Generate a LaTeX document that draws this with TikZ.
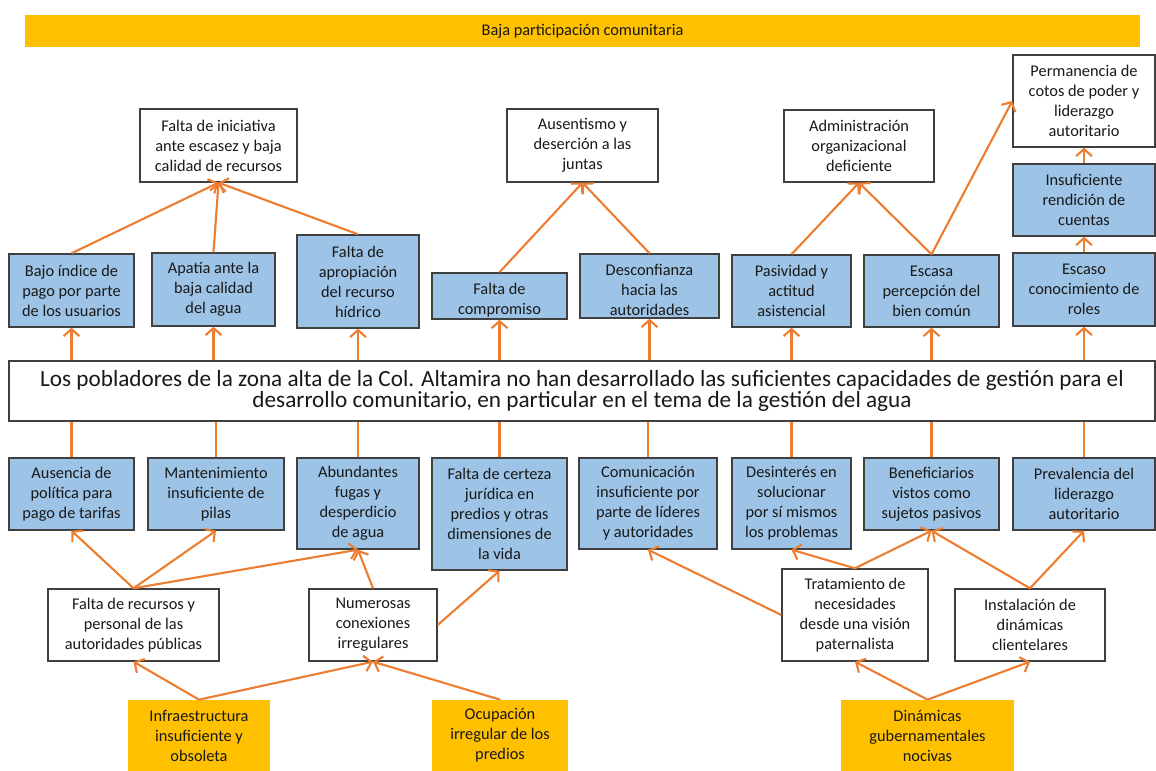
\documentclass[tikz,border=0pt]{standalone}
\usepackage{fontspec}
\setmainfont{Carlito}
\usepackage{xcolor}
\usepackage{tikz}
\usetikzlibrary{arrows.meta, positioning, calc}
\definecolor{pblue}{RGB}{157, 195, 230}
\definecolor{porange}{RGB}{255, 192, 0}
\definecolor{plink}{RGB}{237, 125, 49}
\definecolor{pframe}{RGB}{64, 64, 64}

\begin{document}
\begin{tikzpicture}[
    problem/.style={draw=pframe, line width=0.8pt, fill=white, align=center, inner sep=1pt, text=black!90, font=\fontsize{9.3}{11.4}\selectfont},
    cause/.style={problem, fill=pblue},
    root/.style={fill=porange, align=center, inner sep=1pt, text=black!90, font=\fontsize{9.3}{11.4}\selectfont},
    link/.style={draw=plink, line width=1.2pt, -{Straight Barb[length=4pt, width=9pt]}},
    tie/.style={draw=plink, line width=1.2pt},
]
    \useasboundingbox (0,0) rectangle (23.12,15.42);

    % Banner
    \node[root, minimum width=22.3cm, minimum height=0.64cm] (banner) at (11.65,14.8) {Baja participación comunitaria};

    % Upper effects
    \node[problem, minimum width=3.14cm, minimum height=1.46cm] (iniciativa) at (4.37,12.51) {Falta de iniciativa\\ante escasez y baja\\calidad de recursos};
    \node[problem, minimum width=3.02cm, minimum height=1.46cm] (ausentismo) at (11.65,12.51) {Ausentismo y\\deserción a las\\juntas};
    \node[problem, minimum width=3.0cm, minimum height=1.44cm] (admin) at (17.18,12.5) {Administración\\organizacional\\deficiente};
    \node[problem, minimum width=2.84cm, minimum height=1.84cm] (cotos) at (21.68,13.4) {Permanencia de\\cotos de poder y\\liderazgo\\autoritario};
    \node[cause, minimum width=2.84cm, minimum height=1.44cm] (rendicion) at (21.68,11.42) {Insuficiente\\rendición de\\cuentas};

    % Direct effects
    \node[cause, minimum width=2.5cm, minimum height=1.46cm] (pago) at (1.43,9.61) {Bajo índice de\\pago por parte\\de los usuarios};
    \node[cause, minimum width=2.46cm, minimum height=1.46cm] (apatia) at (4.27,9.63) {Apatía ante la\\baja calidad\\del agua};
    \node[cause, minimum width=2.44cm, minimum height=1.86cm] (apropiacion) at (7.16,9.79) {Falta de\\apropiación\\del recurso\\hídrico};
    \node[cause, minimum width=2.7cm, minimum height=0.88cm, text height=0.8cm] (compromiso) at (9.99,9.5) {Falta de\\compromiso};
    \node[cause, minimum width=2.78cm, minimum height=1.28cm, text height=1.2cm] (desconfianza) at (12.99,9.7) {Desconfianza\\hacia las\\autoridades};
    \node[cause, minimum width=2.38cm, minimum height=1.44cm] (pasividad) at (15.83,9.6) {Pasividad y\\actitud\\asistencial};
    \node[cause, minimum width=2.7cm, minimum height=1.44cm] (percepcion) at (18.63,9.6) {Escasa\\percepción del\\bien común};
    \node[cause, minimum width=2.84cm, minimum height=1.46cm] (roles) at (21.68,9.63) {Escaso\\conocimiento de\\roles};

    % Central problem
    \node[problem, minimum width=22.92cm, minimum height=1.2cm, font=\fontsize{13.2}{12.2}\selectfont] (central) at (11.64,7.6) {Los pobladores de la zona alta de la Col. Altamira no han desarrollado las suficientes capacidades de gestión para el\\desarrollo comunitario, en particular en el tema de la gestión del agua};

    % Direct causes
    \node[cause, minimum width=2.5cm, minimum height=1.44cm] (tarifas) at (1.43,5.54) {Ausencia de\\política para\\pago de tarifas};
    \node[cause, minimum width=2.72cm, minimum height=1.44cm] (pilas) at (4.32,5.54) {Mantenimiento\\insuficiente de\\pilas};
    \node[cause, minimum width=2.44cm, minimum height=1.82cm] (fugas) at (7.16,5.35) {Abundantes\\fugas y\\desperdicio\\de agua};
    \node[cause, minimum width=2.7cm, minimum height=2.24cm] (certeza) at (9.99,5.14) {Falta de certeza\\jurídica en\\predios y otras\\dimensiones de\\la vida};
    \node[cause, minimum width=2.76cm, minimum height=1.82cm] (comunicacion) at (12.96,5.35) {Comunicación\\insuficiente por\\parte de líderes\\y autoridades};
    \node[cause, minimum width=2.38cm, minimum height=1.82cm] (desinteres) at (15.83,5.35) {Desinterés en\\solucionar\\por sí mismos\\los problemas};
    \node[cause, minimum width=2.7cm, minimum height=1.44cm] (pasivos) at (18.63,5.54) {Beneficiarios\\vistos como\\sujetos pasivos};
    \node[cause, minimum width=2.84cm, minimum height=1.44cm] (liderazgo) at (21.68,5.54) {Prevalencia del\\liderazgo\\autoritario};

    % Secondary causes
    \node[problem, minimum width=3.42cm, minimum height=1.44cm] (recursos) at (2.67,2.92) {Falta de recursos y\\personal de las\\autoridades públicas};
    \node[problem, minimum width=2.56cm, minimum height=1.44cm] (conexiones) at (7.46,2.92) {Numerosas\\conexiones\\irregulares};
    \node[problem, minimum width=2.92cm, minimum height=1.84cm] (paternal) at (17.1,3.12) {Tratamiento de\\necesidades\\desde una visión\\paternalista};
    \node[problem, minimum width=3.0cm, minimum height=1.44cm] (clientelar) at (20.6,2.92) {Instalación de\\dinámicas\\clientelares};

    % Root causes
    \node[root, minimum width=2.84cm, minimum height=1.42cm] (infra) at (3.98,0.71) {Infraestructura\\insuficiente y\\obsoleta};
    \node[root, minimum width=2.72cm, minimum height=1.42cm] (ocupacion) at (10.0,0.71) {Ocupación\\irregular de los\\predios};
    \node[root, minimum width=3.46cm, minimum height=1.42cm] (gobierno) at (18.55,0.71) {Dinámicas\\gubernamentales\\nocivas};

    % Central problem to direct effects
    \draw[link] (pago.south |- central.north) -- (pago.south);
    \draw[link] (apatia.south |- central.north) -- (apatia.south);
    \draw[link] (apropiacion.south |- central.north) -- (apropiacion.south);
    \draw[link] (compromiso.south |- central.north) -- (compromiso.south);
    \draw[link] (desconfianza.south |- central.north) -- (desconfianza.south);
    \draw[link] (pasividad.south |- central.north) -- (pasividad.south);
    \draw[link] (percepcion.south |- central.north) -- (percepcion.south);
    \draw[link] (roles.south |- central.north) -- (roles.south);

    % Direct effects to upper effects
    \draw[link] (pago.north) -- (iniciativa.south);
    \draw[link] (apatia.north) -- (iniciativa.south);
    \draw[link] (apropiacion.north) -- (iniciativa.south);
    \draw[link] (compromiso.north) -- (ausentismo.south);
    \draw[link] (desconfianza.north) -- (ausentismo.south);
    \draw[link] (pasividad.north) -- (admin.south);
    \draw[link] (percepcion.north) -- (admin.south);
    \draw[link] (percepcion.north) -- (cotos.west);
    \draw[link] (roles.north) -- (rendicion.south);
    \draw[link] (rendicion.north) -- (cotos.south);

    % Direct causes to central problem
    \draw[tie] (tarifas.north) -- (tarifas.north |- central.south);
    \draw[tie] (pilas.north) -- (pilas.north |- central.south);
    \draw[tie] (fugas.north) -- (fugas.north |- central.south);
    \draw[tie] (certeza.north) -- (certeza.north |- central.south);
    \draw[tie] (comunicacion.north) -- (comunicacion.north |- central.south);
    \draw[tie] (desinteres.north) -- (desinteres.north |- central.south);
    \draw[tie] (pasivos.north) -- (pasivos.north |- central.south);
    \draw[tie] (liderazgo.north) -- (liderazgo.north |- central.south);

    % Secondary causes to direct causes
    \draw[link] (recursos.north) -- (tarifas.south);
    \draw[link] (recursos.north) -- (pilas.south);
    \draw[link] (recursos.north) -- (fugas.south);
    \draw[link] (conexiones.north) -- (fugas.south);
    \draw[link] (conexiones.east) -- (certeza.south);
    \draw[link] (paternal.west) -- (comunicacion.south);
    \draw[link] (paternal.north) -- (desinteres.south);
    \draw[link] (paternal.north) -- (pasivos.south);
    \draw[link] (clientelar.north) -- (pasivos.south);
    \draw[link] (clientelar.north) -- (liderazgo.south);

    % Root causes to secondary causes
    \draw[link] (infra.north) -- (recursos.south);
    \draw[link] (infra.north) -- (conexiones.south);
    \draw[link] (ocupacion.north) -- (conexiones.south);
    \draw[link] (gobierno.north) -- (paternal.south);
    \draw[link] (gobierno.north) -- (clientelar.south);
\end{tikzpicture}
\end{document}
